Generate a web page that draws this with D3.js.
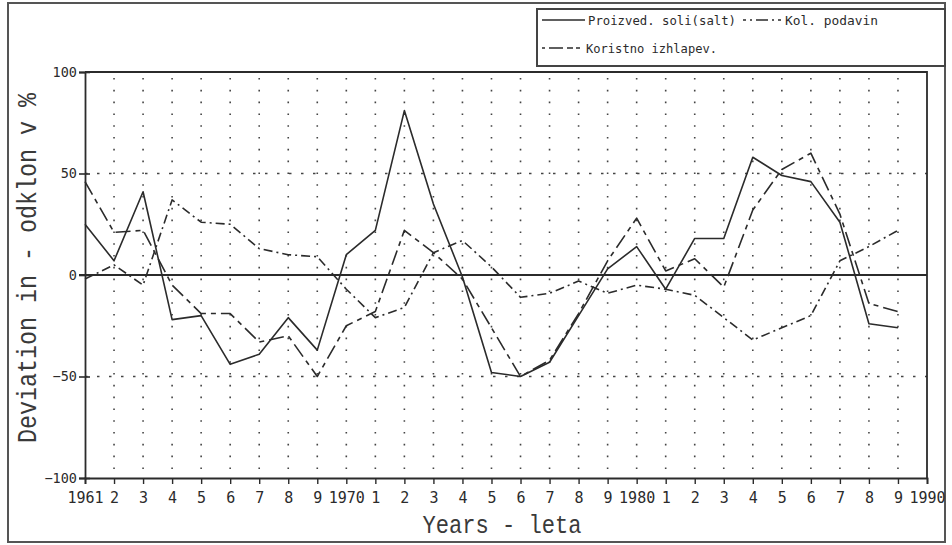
<!DOCTYPE html>
<html>
<head>
<meta charset="utf-8">
<script src="https://cdn.jsdelivr.net/npm/d3@7"></script>
<style>
  html, body { margin: 0; padding: 0; background: #ffffff; }
  svg { display: block; }
</style>
</head>
<body>
<svg id="chart" width="952" height="545"></svg>
<script>
// ---------------- data ----------------
const years = [1961,1962,1963,1964,1965,1966,1967,1968,1969,1970,1971,1972,1973,1974,1975,1976,1977,1978,1979,1980,1981,1982,1983,1984,1985,1986,1987,1988,1989];
// Proizved. soli (salt) – solid
const saltProduction = [25,7,41,-22,-20,-44,-39,-21,-37,10,22,81,35,-1,-48,-50,-43,-20,3,14,-7,18,18,58,49,46,26,-24,-26];
// Kol. podavin – dash-dot
const precipitation = [-2,5,-5,37,26,25,13,10,9,-7,-21,-16,11,17,4,-11,-9,-3,-9,-5,-7,-10,-21,-32,-26,-20,7,14,22];
// Koristno izhlapev. – long dash
const evaporation = [46,21,22,-5,-19,-19,-33,-30,-50,-25,-18,22,11,-2,-26,-50,-42,-19,7,28,2,8,-6,32,52,60,30,-14,-18];

const yTickValues = [100, 50, 0, -50, -100];
const xTickValues = d3.range(1961, 1991);
const xTickLabels = ["1961","2","3","4","5","6","7","8","9","1970","1","2","3","4","5","6","7","8","9","1980","1","2","3","4","5","6","7","8","9","1990"];
const legendLabels = ["Proizved. soli(salt)", "Kol. podavin", "Koristno izhlapev."];
const yTitle = "Deviation in - odklon v %";
const xTitle = "Years - leta";

// ---------------- layout ----------------
const ink = "#2b2b2b";
const mono = "'DejaVu Sans Mono', 'Liberation Mono', monospace";
const thin = "'Liberation Mono', 'DejaVu Sans Mono', monospace";
const svg = d3.select("#chart");
const pLeft = 85, pRight = 927, pTop = 72, pBottom = 478;

const x = d3.scaleLinear().domain([1961, 1990]).range([pLeft, pRight]);
const y = d3.scaleLinear().domain([-100, 100]).range([pBottom, pTop]);

// outer frame
svg.append("rect").attr("x", 8).attr("y", 3).attr("width", 937).attr("height", 539)
  .attr("fill", "none").attr("stroke", "#555").attr("stroke-width", 2);

// vertical dotted grid
svg.append("g").selectAll("line").data(xTickValues.slice(1, -1)).join("line")
  .attr("x1", d => x(d)).attr("x2", d => x(d))
  .attr("y1", pTop + 6).attr("y2", pBottom)
  .attr("stroke", "#444").attr("stroke-width", 1.6)
  .attr("stroke-dasharray", "1.6,10.2");

// horizontal dotted grid at +/-50
svg.append("g").selectAll("line").data([50, -50]).join("line")
  .attr("x1", pLeft).attr("x2", pRight)
  .attr("y1", d => y(d)).attr("y2", d => y(d))
  .attr("stroke", "#444").attr("stroke-width", 1.6)
  .attr("stroke-dasharray", "2.5,9.5");

// zero line
svg.append("line").attr("x1", pLeft - 6).attr("x2", pRight)
  .attr("y1", y(0)).attr("y2", y(0))
  .attr("stroke", ink).attr("stroke-width", 1.8);

// plot border top/right
svg.append("path")
  .attr("d", `M${pLeft},${pTop}H${pRight}V${pBottom}`)
  .attr("fill", "none").attr("stroke", ink).attr("stroke-width", 1.8);

// y axis
const yAxis = svg.append("g").attr("transform", `translate(${pLeft},0)`)
  .call(d3.axisLeft(y).tickValues(yTickValues).tickSize(6).tickPadding(2).tickFormat(d3.format("d")));
yAxis.select(".domain").attr("stroke", ink).attr("stroke-width", 1.8);
yAxis.selectAll(".tick line").attr("stroke", ink).attr("stroke-width", 1.6).attr("x2", 5).attr("x1", -6);
yAxis.selectAll(".tick text").attr("font-family", mono).attr("font-size", 13.5).attr("fill", ink);

// x axis
const xAxis = svg.append("g").attr("transform", `translate(0,${pBottom})`)
  .call(d3.axisBottom(x).tickValues(xTickValues).tickSize(6).tickPadding(8)
    .tickFormat((d, i) => xTickLabels[i]));
xAxis.select(".domain").attr("stroke", ink).attr("stroke-width", 1.8);
xAxis.selectAll(".tick line").attr("stroke", ink).attr("stroke-width", 1.4);
xAxis.selectAll(".tick text").attr("font-family", mono).attr("font-size", 15).attr("fill", ink);

// axis titles
svg.append("text")
  .attr("transform", `translate(36,268) rotate(-90)`)
  .attr("text-anchor", "middle")
  .attr("font-family", thin).attr("font-size", 27).attr("fill", "#3a3a3a")
  .attr("textLength", 350).attr("lengthAdjust", "spacingAndGlyphs")
  .text(yTitle);
svg.append("text")
  .attr("x", 502).attr("y", 533)
  .attr("text-anchor", "middle")
  .attr("font-family", thin).attr("font-size", 26).attr("fill", "#3a3a3a")
  .attr("textLength", 159).attr("lengthAdjust", "spacingAndGlyphs")
  .text(xTitle);

// series
const styles = [
  { data: saltProduction, dash: null },
  { data: precipitation, dash: "9,4,2,4" },
  { data: evaporation, dash: "15,5,5,5" }
];
const line = d3.line().x(d => x(d[0])).y(d => y(d[1]));
styles.forEach(s => {
  svg.append("path")
    .datum(years.map((yr, i) => [yr, s.data[i]]))
    .attr("d", line)
    .attr("fill", "none").attr("stroke", ink).attr("stroke-width", 1.6)
    .attr("stroke-linejoin", "round")
    .attr("stroke-dasharray", s.dash);
});

// legend
svg.append("rect").attr("x", 537).attr("y", 9).attr("width", 408).attr("height", 57)
  .attr("fill", "#fff").attr("stroke", "#444").attr("stroke-width", 2);
const legendItems = [
  { label: legendLabels[0], dash: null, x1: 542, x2: 585, tx: 588, ty: 20, tl: 148 },
  { label: legendLabels[1], dash: "3,4,2,4,12,4,2,4,3", x1: 743, x2: 783, tx: 785, ty: 20, tl: 93 },
  { label: legendLabels[2], dash: "3,4,14,4,6", x1: 542, x2: 585, tx: 586, ty: 48, tl: 131 }
];
const lg = svg.append("g").selectAll("g").data(legendItems).join("g");
lg.append("line")
  .attr("x1", d => d.x1).attr("x2", d => d.x2)
  .attr("y1", d => d.ty).attr("y2", d => d.ty)
  .attr("stroke", ink).attr("stroke-width", 1.6)
  .attr("stroke-dasharray", d => d.dash);
lg.append("text")
  .attr("x", d => d.tx).attr("y", d => d.ty)
  .attr("dy", "0.36em")
  .attr("font-family", mono).attr("font-size", 12.5).attr("fill", ink)
  .attr("textLength", d => d.tl).attr("lengthAdjust", "spacingAndGlyphs")
  .text(d => d.label);
</script>
</body>
</html>
